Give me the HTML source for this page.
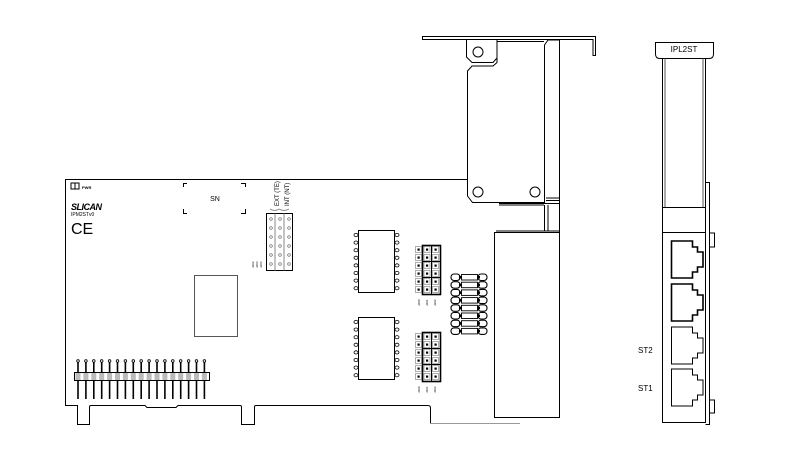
<!DOCTYPE html>
<html><head><meta charset="utf-8"><style>
html,body{margin:0;padding:0;background:#fff}
svg{display:block}
text{font-family:"Liberation Sans",sans-serif;fill:#000}
</style></head><body>
<svg width="800" height="475" viewBox="0 0 800 475" xmlns="http://www.w3.org/2000/svg">
<g fill="none" stroke="#000" stroke-width="1">
<!-- board outline -->
<path d="M467,179.5 H65.5 V405.5 H77.5 V424.5 H89.5 V407 Q89.5,405.5 91,405.5 H145 L147,407.5 H176 L178,405.5 H240 Q241.5,405.5 241.5,407 V424.5 H254.5 V407 Q254.5,405.5 256,405.5 H428 Q430.5,405.5 430.5,408 V423.5"/>
<path d="M430.5,423.5 H520" stroke="#999"/>
<path d="M552,417.5 H559.5" />
<!-- bracket flange -->
<path d="M422.5,36.5 H595.5 V55.5 H593 V39.5 H422.5 Z"/>
<!-- tab -->
<path d="M466.5,39.5 V57 L472,62.5 H493 L497,58 V39.5"/>
<circle cx="478" cy="52" r="5"/>
<!-- body -->
<path d="M497,58 V62.5 L493,66 H472 L467.5,71 V196 L472.5,202.5 H544.5 V45 L548,40 H559.5 V203"/>
<path d="M497,41.5 H544"/>
<circle cx="478" cy="192" r="5"/>
<circle cx="535" cy="192" r="5"/>
<path d="M546,198 H559 M546,200.5 H559"/>
<path d="M499,203.5 H559.5 M499,205 H544"/>
<!-- small box -->
<path d="M544.5,205 V231 M548,205 V231 M559.5,203 V232"/>
<!-- big connector box -->
<path d="M494.5,232.5 H559.5 V417.5 H494.5 Z"/>
<path d="M496,231 H559"/>
<!-- SN box corners -->
<path d="M183.5,187 V183.5 H187 M241,183.5 H245.5 V187 M183.5,209 V213.5 H187 M241,213.5 H245.5 V209"/>
<!-- jumper grid -->
<rect x="266.5" y="213.5" width="26" height="57"/>
<path d="M275,213.5 V270.5 M284,213.5 V270.5" stroke="#888"/>
<path d="M270,209 Q275,212 279,209 M279,209 Q284,212 289,209" stroke="#888"/>
<!-- chip -->
<rect x="194.5" y="275.5" width="43" height="61" stroke="#555"/>
<!-- PWR icon -->
<rect x="71" y="183" width="4" height="6"/><rect x="75" y="183" width="4" height="6"/>
<!-- right side view -->
<path d="M655.5,42.5 H713.5 V54 Q713.5,58.5 709,58.5 H660 Q655.5,58.5 655.5,54 Z"/>
<path d="M662.5,58.5 V422.5 H705.5 V58.5"/>
<path d="M665,58.5 V207 M703,58.5 V207" stroke="#555"/>
<path d="M662.5,207.5 H705.5 M662.5,232.5 H705.5"/>
<path d="M705.5,182.5 H709.5 V424.5 H705.5"/>
<path d="M709.5,233 H714.5 V247 H709.5 M709.5,400 H714.5 V413 H709.5"/>
</g>
<!-- pin grid dots -->
<g fill="none" stroke="#666" stroke-width="0.7">
<circle cx="271" cy="219" r="1.3"/><circle cx="280" cy="219" r="1.3"/><circle cx="289" cy="219" r="1.3"/>
<circle cx="271" cy="228" r="1.3"/><circle cx="280" cy="228" r="1.3"/><circle cx="289" cy="228" r="1.3"/>
<circle cx="271" cy="237" r="1.3"/><circle cx="280" cy="237" r="1.3"/><circle cx="289" cy="237" r="1.3"/>
<circle cx="271" cy="246" r="1.3"/><circle cx="280" cy="246" r="1.3"/><circle cx="289" cy="246" r="1.3"/>
<circle cx="271" cy="255" r="1.3"/><circle cx="280" cy="255" r="1.3"/><circle cx="289" cy="255" r="1.3"/>
<circle cx="271" cy="264" r="1.3"/><circle cx="280" cy="264" r="1.3"/><circle cx="289" cy="264" r="1.3"/>
</g>
<g id="ics" fill="none" stroke="#000" stroke-width="1"></g>
<g id="dyn"></g>
<text x="215" y="201" font-size="7" text-anchor="middle">SN</text>
<text x="82" y="189" font-size="4" font-weight="bold">PWR</text>
<text x="71" y="210" font-size="9" font-weight="bold" font-style="italic" letter-spacing="-0.5">SLICAN</text>
<text x="71" y="216" font-size="5" fill="#555">IPM2STv0</text>
<text x="71" y="234" font-size="16">CE</text>
<text transform="translate(279,206) rotate(-90)" font-size="6" fill="#555">EXT (TE)</text>
<text transform="translate(289,206) rotate(-90)" font-size="6" fill="#555">INT (NT)</text>
<text x="684" y="52" font-size="8" text-anchor="middle">IPL2ST</text>
<text x="638" y="353" font-size="8">ST2</text>
<text x="638" y="391" font-size="8">ST1</text>
<script>
var ns="http://www.w3.org/2000/svg",g=document.getElementById('dyn');
function el(t,a){var e=document.createElementNS(ns,t);for(var k in a)e.setAttribute(k,a[k]);g.appendChild(e);return e;}
// pin header
for(var i=0;i<17;i++){var x=78+i*7.9;
el('line',{x1:x,y1:362,x2:x,y2:399,stroke:'#000','stroke-width':1.6});
el('circle',{cx:x,cy:361,r:1.3,fill:'#fff',stroke:'#000','stroke-width':0.8});}
el('rect',{x:74.5,y:372.5,width:135,height:8,fill:'none',stroke:'#000','stroke-width':1});
for(var i=0;i<17;i++){el('rect',{x:75.5+i*7.9,y:373,width:5,height:7,fill:'#bbb',stroke:'none'});}
// ICs
[230,317].forEach(function(y0){
el('rect',{x:358.5,y:y0+0.5,width:36,height:62,fill:'none',stroke:'#000'});
for(var i=0;i<8;i++){var y=y0+5+i*7.6;
el('ellipse',{cx:356,cy:y,rx:2,ry:1.6,fill:'none',stroke:'#000','stroke-width':0.8});
el('ellipse',{cx:397,cy:y,rx:2,ry:1.6,fill:'none',stroke:'#000','stroke-width':0.8});}
});
// jumper blocks
[245,332].forEach(function(y0){
el('rect',{x:422.5,y:y0+0.5,width:18,height:49,fill:'none',stroke:'#000','stroke-width':1.6});
for(var r=0;r<6;r++)for(var c=0;c<3;c++){
var cx=418.5+c*8.5,cy=y0+4.5+r*8;
el('rect',{x:cx-3,y:cy-3,width:6,height:6,fill:'none',stroke:'#777','stroke-width':0.6});
el('rect',{x:cx-1,y:cy-1,width:2.2,height:2.2,fill:'#000'});}
el('line',{x1:431.5,y1:y0,x2:431.5,y2:y0+50,stroke:'#000'});
el('line',{x1:422,y1:y0+16.5,x2:441,y2:y0+16.5,stroke:'#000'});
el('line',{x1:422,y1:y0+32.5,x2:441,y2:y0+32.5,stroke:'#000'});
});
// resistor array
for(var i=0;i<8;i++){var y=274+i*7.7;
el('rect',{x:461.5,y:y+0.5,width:16,height:5.5,fill:'none',stroke:'#000','stroke-width':0.9});
el('rect',{x:451,y:y,width:9,height:6.5,rx:3,fill:'#fff',stroke:'#000','stroke-width':1.1});
el('rect',{x:478,y:y,width:9,height:6.5,rx:3,fill:'#fff',stroke:'#000','stroke-width':1.1});
el('rect',{x:459,y:y+2,width:3,height:2.5,fill:'#000'});el('rect',{x:477,y:y+2,width:3,height:2.5,fill:'#000'});}
// RJ ports
[[241,1.6],[284,1.6],[327,1],[369,1]].forEach(function(p){var y=p[0],h=37;
el('path',{d:'M692.5,'+y+' H671.5 V'+(y+h)+' H692.5 V'+(y+h-6)+' H697.5 V'+(y+h-11)+' H703 V'+(y+11)+' H697.5 V'+(y+6)+' H692.5 Z',fill:'none',stroke:'#000','stroke-width':p[1]});});
// small labels
function vt(x,y,s){var t=el('text',{transform:'translate('+x+','+y+') rotate(-90)','font-size':3,fill:'#777'});t.textContent=s;}
vt(254,268,'J202');vt(258,268,'J203');vt(262,268,'J204');
vt(420,306,'J200');vt(428,306,'J201');vt(436,306,'J202');
vt(420,393,'J200');vt(428,393,'J201');vt(436,393,'J202');
</script>
</svg>
</body></html>
